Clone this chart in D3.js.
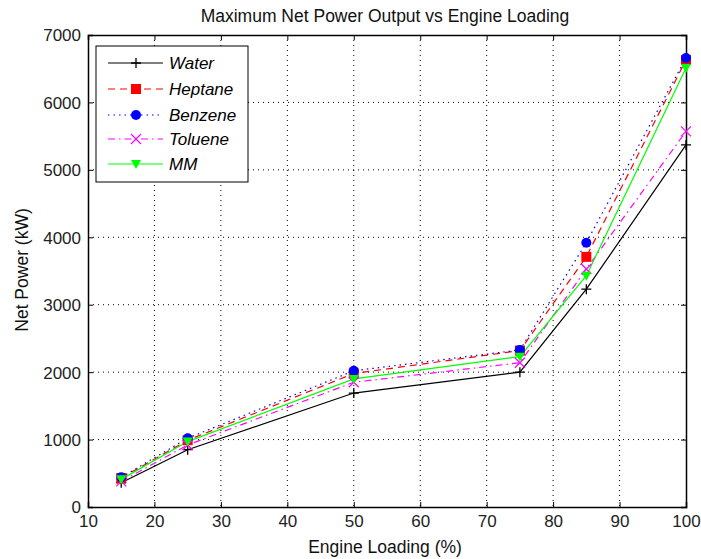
<!DOCTYPE html>
<html><head><meta charset="utf-8">
<script src="https://cdn.jsdelivr.net/npm/d3@7"></script>
<style>body{margin:0;background:#fff}text{font-family:"Liberation Sans",Arial,sans-serif}</style>
</head><body><svg id="c" width="701" height="559"></svg>
<script>
const loading = [15, 25, 50, 75, 85, 100];
const water   = [360, 850, 1690, 2000, 3230, 5370];
const heptane = [430, 990, 1980, 2320, 3710, 6630];
const benzene = [440, 1020, 2020, 2330, 3920, 6660];
const toluene = [380, 920, 1850, 2140, 3530, 5570];
const mm      = [410, 970, 1900, 2230, 3430, 6510];
const xTicks = [10,20,30,40,50,60,70,80,90,100];
const yTicks = [0,1000,2000,3000,4000,5000,6000,7000];
const seriesNames = ["Water","Heptane","Benzene","Toluene","MM"];
const seriesVals = [water, heptane, benzene, toluene, mm];
const colors = ["#000000","#ff0000","#0000ff","#ff00ff","#00ff00"];
const dashes = [null,"7,5","1.5,4","7,4,1.5,4",null];
const markers = ["plus","square","circle","cross","tri"];

const svg = d3.select("#c");
const L=88, R=686, T=35, B=507;
const x = d3.scaleLinear().domain([10,100]).range([L,R]);
const y = d3.scaleLinear().domain([0,7000]).range([B,T]);

// grid
const g = svg.append("g");
g.selectAll(".gx").data(xTicks.slice(1,-1)).enter().append("line")
 .attr("x1",d=>x(d)).attr("x2",d=>x(d)).attr("y1",T).attr("y2",B)
 .attr("stroke","#000").attr("stroke-width",1).attr("stroke-dasharray","1,4");
g.selectAll(".gy").data(yTicks.slice(1,-1)).enter().append("line")
 .attr("y1",d=>y(d)).attr("y2",d=>y(d)).attr("x1",L).attr("x2",R)
 .attr("stroke","#000").attr("stroke-width",1).attr("stroke-dasharray","1,4");

// axes
const ax = svg.append("g").attr("transform",`translate(0,${B})`)
 .call(d3.axisBottom(x).tickValues(xTicks).tickSize(-5).tickPadding(8).tickFormat(d3.format("d")));
const ax2 = svg.append("g").attr("transform",`translate(0,${T})`)
 .call(d3.axisTop(x).tickValues(xTicks).tickSize(-5).tickFormat(""));
const ay = svg.append("g").attr("transform",`translate(${L},0)`)
 .call(d3.axisLeft(y).tickValues(yTicks).tickSize(-5).tickPadding(7).tickFormat(d3.format("d")));
const ay2 = svg.append("g").attr("transform",`translate(${R},0)`)
 .call(d3.axisRight(y).tickValues(yTicks).tickSize(-5).tickFormat(""));
[ax,ax2,ay,ay2].forEach(a=>{
  a.select(".domain").attr("stroke","#000").attr("stroke-width",1.5);
  a.selectAll(".tick line").attr("stroke","#000").attr("stroke-width",1);
  a.selectAll("text").attr("font-size",17).attr("fill","#222").style("font-family","'Liberation Sans',Arial,sans-serif");
});
ay.selectAll(".tick text").attr("dy","0.35em");
ax.selectAll(".tick text").attr("dy","0.71em");

// lines
const line = d3.line().x((d,i)=>x(loading[i])).y(d=>y(d));
function marker(sel, type, color){
  const s=5;
  if(type==="plus"){
    sel.append("path").attr("d",`M${-s},0H${s}M0,${-s}V${s}`).attr("stroke",color).attr("stroke-width",1.3).attr("fill","none");
  } else if(type==="square"){
    sel.append("rect").attr("x",-5).attr("y",-5).attr("width",10).attr("height",10).attr("fill",color);
  } else if(type==="circle"){
    sel.append("circle").attr("r",5).attr("fill",color);
  } else if(type==="cross"){
    sel.append("path").attr("d",`M${-s},${-s}L${s},${s}M${-s},${s}L${s},${-s}`).attr("stroke",color).attr("stroke-width",1.2).attr("fill","none");
  } else if(type==="tri"){
    sel.append("path").attr("d","M-5,-4L5,-4L0,5Z").attr("fill",color);
  }
}
seriesVals.forEach((vals,k)=>{
  const p = svg.append("path").datum(vals).attr("d",line).attr("fill","none")
   .attr("stroke",colors[k]).attr("stroke-width",1.2);
  if(dashes[k]) p.attr("stroke-dasharray",dashes[k]);
});
seriesVals.forEach((vals,k)=>{
  vals.forEach((v,i)=>{
    const m = svg.append("g").attr("transform",`translate(${x(loading[i])},${y(v)})`);
    marker(m, markers[k], colors[k]);
  });
});

// legend
const lg = svg.append("g");
lg.append("rect").attr("x",96).attr("y",46).attr("width",152).attr("height",136)
 .attr("fill","#fff").attr("stroke","#000").attr("stroke-width",1);
const ly = [63,89,115,139,164];
seriesNames.forEach((n,k)=>{
  const l = lg.append("line").attr("x1",108).attr("x2",163).attr("y1",ly[k]).attr("y2",ly[k])
   .attr("stroke",colors[k]).attr("stroke-width",1.2);
  if(dashes[k]) l.attr("stroke-dasharray",dashes[k]);
  const m = lg.append("g").attr("transform",`translate(136,${ly[k]})`);
  marker(m, markers[k], colors[k]);
  lg.append("text").attr("x",169).attr("y",ly[k]).attr("dy","0.36em").attr("font-size",17)
   .attr("font-style","italic").attr("fill","#000").text(n);
});

// title & labels
svg.append("text").attr("x",385).attr("y",22).attr("text-anchor","middle").attr("font-size",17.5).attr("fill","#111")
 .text("Maximum Net Power Output vs Engine Loading");
svg.append("text").attr("x",385).attr("y",553).attr("text-anchor","middle").attr("font-size",17.5).attr("fill","#111")
 .text("Engine Loading (%)");
svg.append("text").attr("transform","translate(28,270) rotate(-90)").attr("text-anchor","middle").attr("font-size",17.5).attr("fill","#111")
 .text("Net Power (kW)");
</script></body></html>
